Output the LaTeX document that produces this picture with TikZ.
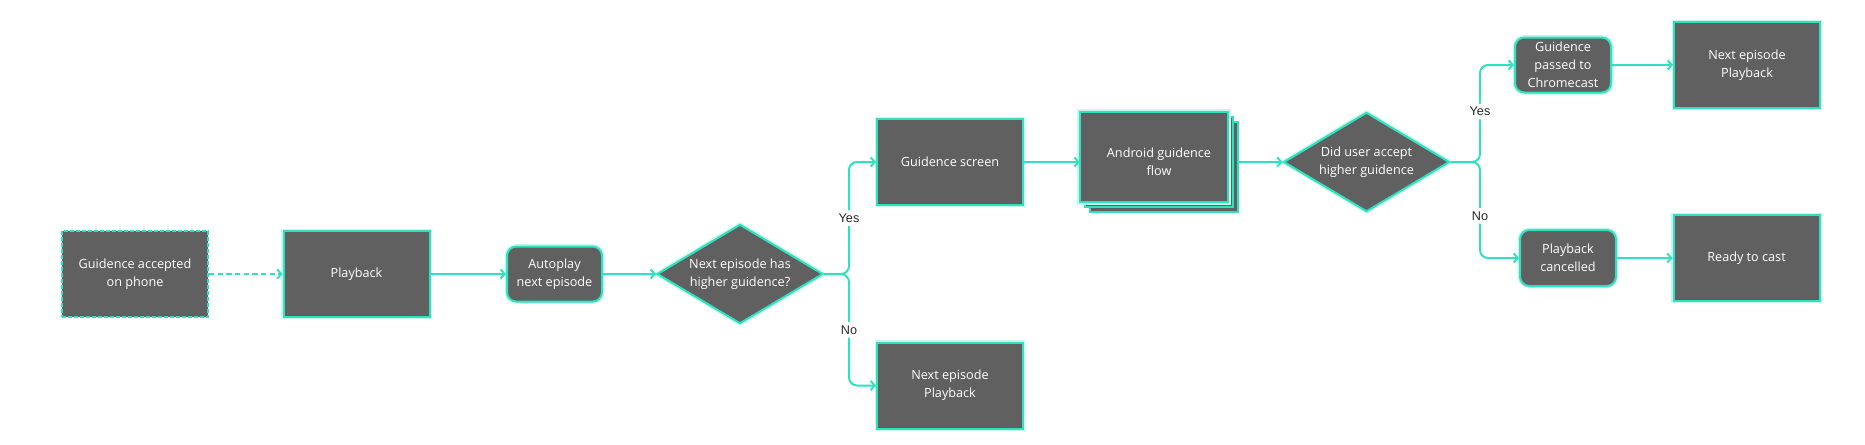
\documentclass[tikz,border=0pt]{standalone}
\usepackage{fontspec}
\setmainfont{Open Sans}
\newfontfamily\lblfont{Liberation Sans}
\usetikzlibrary{shapes.geometric,arrows.meta}
\definecolor{tq}{RGB}{46,226,192}
\definecolor{boxgray}{RGB}{96,96,96}
\definecolor{glowc}{RGB}{200,246,237}
\definecolor{lblc}{RGB}{40,40,40}
\begin{document}
\begin{tikzpicture}[x=0.75pt,y=-0.75pt,
  base/.style={fill=boxgray,draw=tq,line width=1.5pt,text=white,align=center,inner sep=0pt,
    font=\fontsize{9.5}{13.5}\selectfont},
  glow/.style={preaction={draw=glowc,line width=3.5pt}},
  rectbox/.style={base,glow,rectangle,minimum width=109.5pt,minimum height=64.5pt},
  dashbox/.style={base,rectangle,dash pattern=on 3pt off 1.5pt,minimum width=109.5pt,minimum height=64.5pt},
  rbox/.style={base,glow,rectangle,rounded corners=7pt,minimum width=71.25pt,minimum height=41.25pt},
  dbox/.style={base,glow,diamond,shape aspect=1.68,minimum width=124.5pt,minimum height=74.5pt},
  stackframe/.style={rectangle,inner sep=0pt,minimum width=118.5pt,minimum height=75pt},
  layer/.style={fill=boxgray,draw=tq,line width=1.5pt},
  txt/.style={text=white,align=center,inner sep=0pt,font=\fontsize{9.5}{13.5}\selectfont},
  conn/.style={draw=tq,line width=1.5pt,-{Straight Barb[length=3pt,width=7pt]}},
  lbl/.style={fill=white,text=lblc,font=\lblfont\fontsize{9.5}{12}\selectfont,inner sep=2.5pt}
]
\useasboundingbox (0,0) rectangle (1865,444);

% nodes
\node[dashbox] (acc) at (135,274) {Guidence accepted\\on phone};
\node[rectbox] (pb) at (356.5,274) {Playback};
\node[rbox] (ap) at (554.5,274) {Autoplay\\next episode};
\node[dbox] (d1) at (740,274) {Next episode has\\higher guidence?};
\node[rectbox] (gs) at (950,162) {Guidence screen};
\node[rectbox] (nep) at (950,385.5) {Next episode\\Playback};

\node[stackframe] (and) at (1159,162) {};
\draw[layer] ([shift={(10,10)}]and.north west) rectangle (and.south east);
\draw[layer] ([shift={(5,5)}]and.north west) rectangle ([shift={(-5,-5)}]and.south east);
\draw[layer,preaction={draw=glowc,line width=3.5pt}] (and.north west) rectangle ([shift={(-10,-10)}]and.south east);
\node[txt] (andtxt) at (and.center) {Android guidence\\flow};

\node[dbox] (d2) at (1366.5,162) {Did user accept\\higher guidence};
\node[rbox,minimum width=72pt] (cc) at (1563,65) {Guidence\\passed to\\Chromecast};
\node[rectbox] (nep2) at (1747,65) {Next episode\\Playback};
\node[rbox,minimum width=72pt,minimum height=42pt] (pc) at (1568,258) {Playback\\cancelled};
\node[rectbox] (rc) at (1746.5,258) {Ready to cast};

% connectors
\draw[conn,dash pattern=on 4pt off 2.5pt] (acc) -- (pb);
\draw[conn] (pb) -- (ap);
\draw[conn] (ap) -- (d1);
\coordinate (j1) at (849,274);
\draw[conn,rounded corners=6pt] (d1.east) -- (j1) |- node[lbl,pos=0.25] (yes1) {Yes} (gs.west);
\draw[conn,rounded corners=6pt] (d1.east) -- (j1) |- node[lbl,pos=0.25] (no1) {No} (nep.west);
\draw[conn] (gs) -- (and);
\draw[conn] (and) -- (d2);
\coordinate (j2) at (1480,162);
\draw[conn,rounded corners=6pt] (d2.east) -- (j2) |- node[lbl,pos=0.26] (yes2) {Yes} (cc.west);
\draw[conn,rounded corners=6pt] (d2.east) -- (j2) |- node[lbl,pos=0.28] (no2) {No} (pc.west);
\draw[conn] (cc) -- (nep2);
\draw[conn] (pc) -- (rc);
\end{tikzpicture}
\end{document}
